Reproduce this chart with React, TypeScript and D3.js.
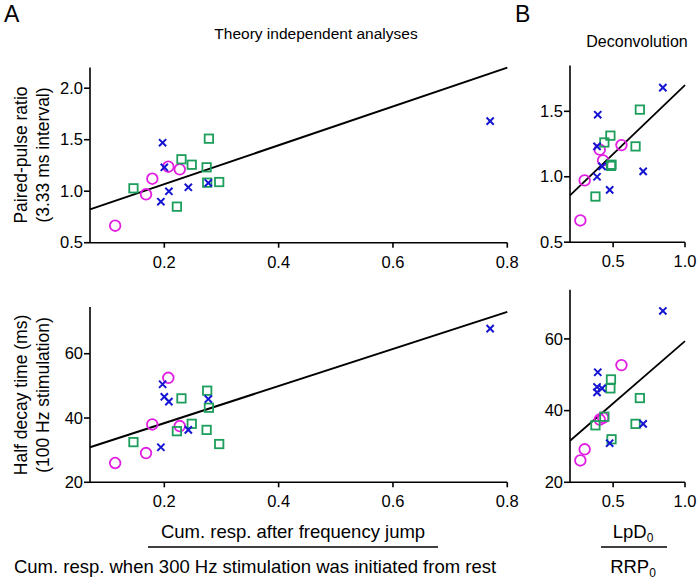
import React from "react";
import * as d3 from "d3";

// ---- Data (Theory independent analyses: x shared by both left panels) ----
const crossX = [0.197, 0.2, 0.208, 0.194, 0.242, 0.277, 0.77];
const crossPPR = [1.471, 1.232, 0.999, 0.898, 1.038, 1.08, 1.68];
const crossHalf = [50.5, 46.6, 45.1, 30.9, 36.3, 45.9, 67.8];

const squareX = [0.278, 0.23, 0.248, 0.274, 0.275, 0.296, 0.146, 0.222];
const squarePPR = [1.51, 1.31, 1.257, 1.232, 1.083, 1.089, 1.028, 0.85];
const squareHalf = [43.2, 46.1, 38.2, 36.3, 48.5, 31.9, 32.5, 35.9];

const circleX = [0.114, 0.168, 0.179, 0.207, 0.227];
const circlePPR = [0.665, 0.97, 1.121, 1.238, 1.212];
const circleHalf = [26.0, 29.1, 38.0, 52.5, 37.5];

// ---- Deconvolution (LpD0 / RRP0) ----
const crossXB = [0.393, 0.388, 0.388, 0.476, 0.709, 0.423, 0.846];
const crossPPRB = [1.474, 1.232, 1.0, 0.9, 1.041, 1.079, 1.681];
const crossHalfB = [50.7, 46.6, 45.1, 30.9, 36.3, 46.2, 67.8];

const squareXB = [0.686, 0.481, 0.439, 0.656, 0.485, 0.489, 0.377];
const squarePPRB = [1.513, 1.314, 1.262, 1.232, 1.083, 1.092, 0.849];
const squareHalfB = [43.5, 46.2, 38.3, 36.3, 48.7, 32.0, 35.9];

const circleXB = [0.272, 0.302, 0.43, 0.558, 0.407];
const circlePPRB = [0.666, 0.972, 1.125, 1.242, 1.207];
const circleHalfB = [26.1, 29.2, 38.0, 52.7, 37.5];

// regression lines (endpoints)
const fitAx = [0.07, 0.8];
const fitAPPR = [0.824, 2.2];
const fitAHalf = [30.9, 73.0];
const fitBx = [0.2, 1.0];
const fitBPPR = [0.857, 1.7];
const fitBHalf = [31.6, 59.4];

const ticksAx = [0.2, 0.4, 0.6, 0.8];
const ticksBx = [0.5, 1.0];
const ticksPPR = [0.5, 1.0, 1.5, 2.0];
const ticksPPRB = [0.5, 1.0, 1.5];
const ticksHalf = [20, 40, 60];

const BLUE = "#1414d2";
const GREEN = "#1d9e5c";
const MAGENTA = "#e21ee2";
const FONT = "'Liberation Sans', Arial, Helvetica, sans-serif";

type Sc = d3.ScaleLinear<number, number>;

function Panel(props: {
  x: Sc; y: Sc;
  xTicks: number[]; yTicks: number[]; yFmt: (v: number) => string;
  cx: number[]; cy: number[]; sx: number[]; sy: number[]; ox: number[]; oy: number[];
  fx: number[]; fy: number[]; fitW: number;
}) {
  const { x, y } = props;
  const [x0, x1] = x.range();
  const [y0, y1] = y.range();
  const line = d3.line<number>().x((_, i) => x(props.fx[i])).y((d) => y(d));
  return (
    <g>
      <path d={line(props.fy) || ""} fill="none" stroke="#000" strokeWidth={props.fitW} />
      {props.ox.map((v, i) => (
        <circle key={"o" + i} cx={x(v)} cy={y(props.oy[i])} r={5.3} fill="none" stroke={MAGENTA} strokeWidth={1.8} />
      ))}
      {props.sx.map((v, i) => (
        <rect key={"s" + i} x={x(v) - 4.2} y={y(props.sy[i]) - 4.2} width={8.4} height={8.4} fill="none" stroke={GREEN} strokeWidth={1.8} />
      ))}
      {props.cx.map((v, i) => {
        const px = x(v), py = y(props.cy[i]), h = 3.6;
        return (
          <path key={"c" + i} d={`M${px - h},${py - h}L${px + h},${py + h}M${px - h},${py + h}L${px + h},${py - h}`} stroke={BLUE} strokeWidth={2} fill="none" />
        );
      })}
      <line x1={x0} x2={x0} y1={y0} y2={y1} stroke="#000" strokeWidth={1.6} />
      <line x1={x0} x2={x1} y1={y0} y2={y0} stroke="#000" strokeWidth={1.6} />
      {props.yTicks.map((t) => (
        <g key={"yt" + t}>
          <line x1={x0 - 6} x2={x0} y1={y(t)} y2={y(t)} stroke="#000" strokeWidth={1.6} />
          <text x={x0 - 7} y={y(t) + 5.7} textAnchor="end" fontSize={16.5} fontFamily={FONT}>{props.yFmt(t)}</text>
        </g>
      ))}
      {props.xTicks.map((t) => (
        <g key={"xt" + t}>
          <line x1={x(t)} x2={x(t)} y1={y0} y2={y0 + 5} stroke="#000" strokeWidth={1.6} />
          <text x={x(t)} y={y0 + 25} textAnchor="middle" fontSize={16.5} fontFamily={FONT}>{t.toFixed(1)}</text>
        </g>
      ))}
    </g>
  );
}

export default function App() {
  const xA = d3.scaleLinear().domain([0.07, 0.8]).range([90, 507.3]);
  const xB = d3.scaleLinear().domain([0.2, 1.0]).range([570, 685]);
  const yA1 = d3.scaleLinear().domain([0.5, 2.2]).range([242.7, 67.6]);
  const yA2 = d3.scaleLinear().domain([20, 74.5]).range([482.3, 307.1]);
  const yB1 = d3.scaleLinear().domain([0.5, 1.85]).range([242.2, 65.5]);
  const yB2 = d3.scaleLinear().domain([20, 73.7]).range([482.3, 289.8]);
  const f1 = (v: number) => v.toFixed(1);
  const f0 = (v: number) => v.toFixed(0);
  const AX = 18.5;

  return (
    <svg width={698} height={581} style={{ position: "absolute", left: 0, top: 0, background: "#fff" }}>
      <rect width={698} height={581} fill="#fff" />
      <text x={4} y={22} fontSize={23} fontFamily={FONT}>A</text>
      <text x={515} y={22} fontSize={23} fontFamily={FONT}>B</text>
      <text x={316} y={39} fontSize={15.5} textAnchor="middle" fontFamily={FONT}>Theory independent analyses</text>
      <text x={637} y={47} fontSize={16} textAnchor="middle" fontFamily={FONT}>Deconvolution</text>

      <Panel x={xA} y={yA1} xTicks={ticksAx} yTicks={ticksPPR} yFmt={f1}
        cx={crossX} cy={crossPPR} sx={squareX} sy={squarePPR} ox={circleX} oy={circlePPR}
        fx={fitAx} fy={fitAPPR} fitW={2} />
      <Panel x={xA} y={yA2} xTicks={ticksAx} yTicks={ticksHalf} yFmt={f0}
        cx={crossX} cy={crossHalf} sx={squareX} sy={squareHalf} ox={circleX} oy={circleHalf}
        fx={fitAx} fy={fitAHalf} fitW={2} />
      <Panel x={xB} y={yB1} xTicks={ticksBx} yTicks={ticksPPRB} yFmt={f1}
        cx={crossXB} cy={crossPPRB} sx={squareXB} sy={squarePPRB} ox={circleXB} oy={circlePPRB}
        fx={fitBx} fy={fitBPPR} fitW={1.8} />
      <Panel x={xB} y={yB2} xTicks={ticksBx} yTicks={ticksHalf} yFmt={f0}
        cx={crossXB} cy={crossHalfB} sx={squareXB} sy={squareHalfB} ox={circleXB} oy={circleHalfB}
        fx={fitBx} fy={fitBHalf} fitW={1.8} />

      <g transform="translate(27,155) rotate(-90)">
        <text textAnchor="middle" fontSize={17.5} fontFamily={FONT}>Paired-pulse ratio</text>
      </g>
      <g transform="translate(49,155) rotate(-90)">
        <text textAnchor="middle" fontSize={17.5} fontFamily={FONT}>(3.33 ms interval)</text>
      </g>
      <g transform="translate(27,395) rotate(-90)">
        <text textAnchor="middle" fontSize={17.5} fontFamily={FONT}>Half decay time (ms)</text>
      </g>
      <g transform="translate(49,395) rotate(-90)">
        <text textAnchor="middle" fontSize={17.5} fontFamily={FONT}>(100 Hz stimulation)</text>
      </g>

      <text x={293} y={538} fontSize={AX} textAnchor="middle" fontFamily={FONT}>Cum. resp. after frequency jump</text>
      <line x1={148} x2={438} y1={547} y2={547} stroke="#000" strokeWidth={1.6} />
      <text x={255} y={573} fontSize={AX} textAnchor="middle" fontFamily={FONT}>Cum. resp. when 300 Hz stimulation was initiated from rest</text>

      <text x={633} y={538} fontSize={AX} textAnchor="middle" fontFamily={FONT}>
        LpD<tspan fontSize={12} dy={4}>0</tspan>
      </text>
      <line x1={601} x2={667} y1={547} y2={547} stroke="#000" strokeWidth={1.6} />
      <text x={633} y={573} fontSize={AX} textAnchor="middle" fontFamily={FONT}>
        RRP<tspan fontSize={12} dy={4}>0</tspan>
      </text>
    </svg>
  );
}
